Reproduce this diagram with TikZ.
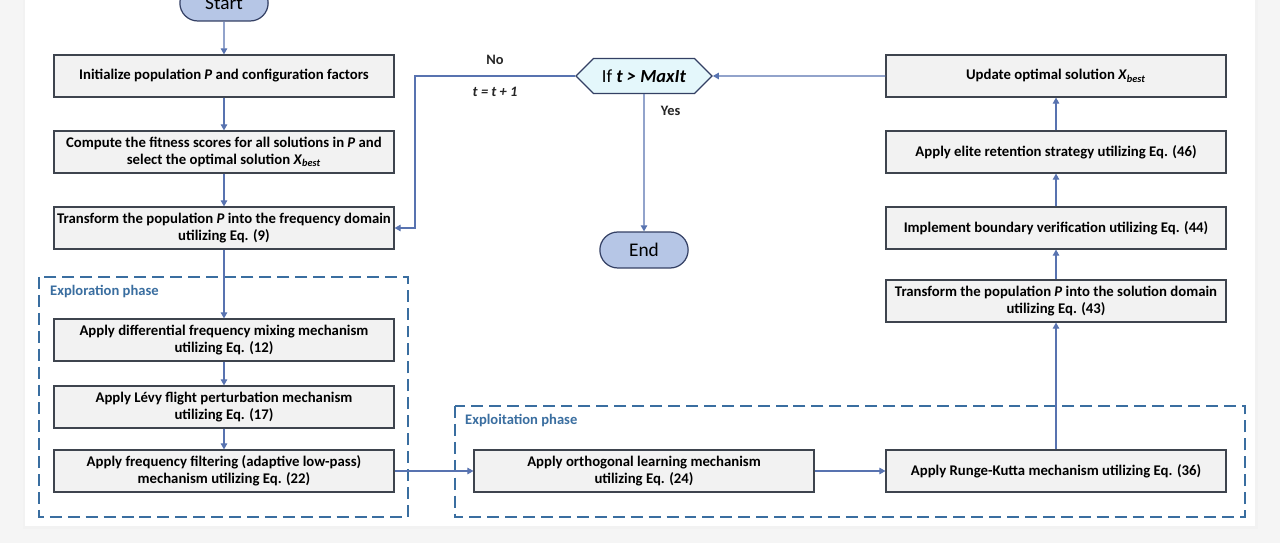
\documentclass[tikz,border=0pt]{standalone}
\usepackage{fontspec}
\setmainfont{Carlito}
\usetikzlibrary{arrows.meta, shapes.misc, shapes.symbols, positioning, calc}
\definecolor{lineblue}{RGB}{88,115,176}
\definecolor{phaseblue}{RGB}{58,110,160}
\definecolor{boxgrey}{RGB}{242,242,242}
\definecolor{boxedge}{RGB}{62,68,78}
\definecolor{termfill}{RGB}{182,198,230}
\definecolor{termedge}{RGB}{52,64,100}
\definecolor{condfill}{RGB}{228,247,251}
\definecolor{pagegrey}{RGB}{245,245,245}
\tikzstyle{process} = [rectangle, draw=boxedge, fill=boxgrey, line width=0.7pt, minimum width=6.8cm, minimum height=0.84cm, align=center, inner sep=1pt, font=\bfseries\fontsize{8.4}{9.6}\selectfont]
\tikzstyle{terminal} = [rounded rectangle, draw=termedge, fill=termfill, line width=0.7pt, minimum width=2cm, minimum height=0.72cm, font=\fontsize{11}{13}\selectfont]
\tikzstyle{decision} = [signal, signal to=west and east, draw=termedge, fill=condfill, line width=0.7pt, minimum width=2.72cm, minimum height=0.7cm, inner sep=1pt, font=\fontsize{10.5}{12}\selectfont]
\tikzstyle{phase} = [draw=phaseblue, line width=0.85pt, dash pattern=on 6.8pt off 3.4pt]
\tikzstyle{phaselabel} = [anchor=west, text=phaseblue, font=\bfseries\fontsize{8.3}{9}\selectfont]
\tikzstyle{lbl} = [text=black!85, font=\bfseries\fontsize{8.2}{9}\selectfont]
\tikzstyle{arrow} = [lineblue, line width=0.6pt, -{Triangle[length=1.2mm,width=1.3mm]}]
\newcommand{\xbest}{\textit{X}\textsubscript{\textit{best}}}

\begin{document}
\begin{tikzpicture}[x=0.02cm, y=-0.02cm]
\clip (0,0) rectangle (1280,543);
% page and card
\fill[pagegrey] (0,0) rectangle (1280,543);
\fill[black!5] (23,-10) rectangle (1258,529);
\fill[white] (25,-10) rectangle (1255,526);

% phases
\draw[phase] (39,277) rectangle (408,517);
\node[phaselabel] (explore) at (44,292) {Exploration phase};
\draw[phase] (455,406) rectangle (1245,517);
\node[phaselabel] (exploit) at (459,421) {Exploitation phase};

% left column
\node[terminal] (start) at (224,3) {Start};
\node[process] (init) at (224,76) {Initialize population \textit{P} and configuration factors};
\node[process] (fit) at (224,152) {Compute the fitness scores for all solutions in \textit{P} and\\select the optimal solution \xbest};
\node[process] (freq) at (224,228) {Transform the population \textit{P} into the frequency domain\\utilizing Eq. (9)};
\node[process] (mix) at (224,340) {Apply differential frequency mixing mechanism\\utilizing Eq. (12)};
\node[process] (levy) at (224,407) {Apply Lévy flight perturbation mechanism\\utilizing Eq. (17)};
\node[process] (filter) at (224,471) {Apply frequency filtering (adaptive low-pass)\\mechanism utilizing Eq. (22)};

% middle
\node[decision] (cond) at (644,76) {If \textbf{\textit{t > MaxIt}}};
\node[terminal] (end) at (644,250) {End};
\node[process] (ortho) at (644,471) {Apply orthogonal learning mechanism\\utilizing Eq. (24)};

% right column
\node[process] (rk) at (1056,471) {Apply Runge-Kutta mechanism utilizing Eq. (36)};
\node[process] (sol) at (1056,301) {Transform the population \textit{P} into the solution domain\\utilizing Eq. (43)};
\node[process] (bound) at (1056,228) {Implement boundary verification utilizing Eq. (44)};
\node[process] (elite) at (1056,152) {Apply elite retention strategy utilizing Eq. (46)};
\node[process] (upd) at (1056,76) {Update optimal solution \xbest};

% connectors
\draw[arrow] (start) -- (init);
\draw[arrow] (init) -- (fit);
\draw[arrow] (fit) -- (freq);
\draw[arrow] (freq) -- (mix);
\draw[arrow] (mix) -- (levy);
\draw[arrow] (levy) -- (filter);
\draw[arrow] (filter) -- (ortho);
\draw[arrow] (ortho) -- (rk);
\draw[arrow] (rk) -- (sol);
\draw[arrow] (sol) -- (bound);
\draw[arrow] (bound) -- (elite);
\draw[arrow] (elite) -- (upd);
\draw[arrow] (upd) -- (cond);
\draw[arrow] (cond) -- node[lbl, pos=0.12, right, xshift=6pt] {Yes} (end);
\coordinate (loop) at (415,76);
\draw[arrow] (cond.west) -- node[lbl, above=3pt] {No} node[lbl, below=3pt] {\textit{t = t + 1}} (loop) |- (freq.east);
\end{tikzpicture}
\end{document}
